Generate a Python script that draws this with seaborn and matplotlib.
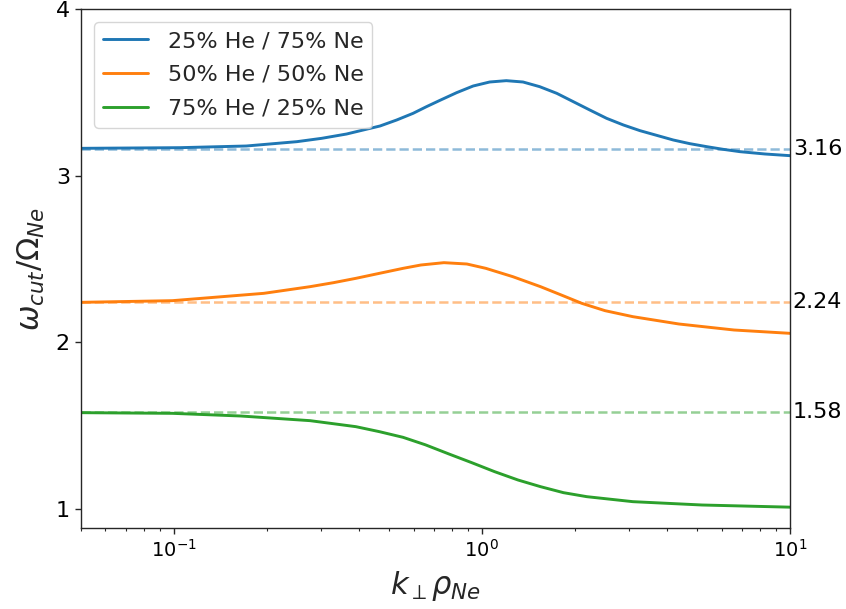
import numpy as np
import pandas as pd
import matplotlib
matplotlib.use("Agg")
import matplotlib.pyplot as plt
import matplotlib.transforms as mtransforms
import seaborn as sns

# Series
x_blue = [0.05, 0.105, 0.172, 0.251, 0.302, 0.364, 0.412, 0.467, 0.529, 0.598, 0.661, 0.731, 0.828,
          0.937, 1.06, 1.2, 1.36, 1.54, 1.75, 1.98, 2.24, 2.54, 2.88, 3.26, 4.18, 4.73, 5.37,
          6.07, 6.88, 8.3, 10.0]
y_blue = [3.164, 3.168, 3.178, 3.204, 3.224, 3.25, 3.274, 3.298, 3.334, 3.374, 3.414, 3.452, 3.498,
          3.538, 3.562, 3.57, 3.562, 3.534, 3.494, 3.444, 3.394, 3.344, 3.304, 3.27, 3.214, 3.192,
          3.174, 3.158, 3.144, 3.13, 3.12]

x_orange = [0.05, 0.099, 0.196, 0.277, 0.33, 0.39, 0.465, 0.555, 0.634, 0.753, 0.894, 1.03, 1.26,
            1.55, 1.81, 2.11, 2.51, 3.09, 4.36, 6.58, 10.0]
y_orange = [2.240, 2.250, 2.294, 2.334, 2.358, 2.384, 2.414, 2.444, 2.464, 2.478, 2.47, 2.444, 2.394,
            2.334, 2.284, 2.234, 2.19, 2.154, 2.11, 2.074, 2.054]

x_green = [0.05, 0.099, 0.165, 0.277, 0.39, 0.465, 0.555, 0.656, 0.782, 0.927, 1.10, 1.31, 1.55,
           1.84, 2.19, 3.09, 5.18, 10.0]
y_green = [1.578, 1.574, 1.558, 1.53, 1.494, 1.464, 1.43, 1.385, 1.33, 1.278, 1.224, 1.174, 1.134,
           1.098, 1.074, 1.044, 1.024, 1.011]

labels = ["25% He / 75% Ne", "50% He / 50% Ne", "75% He / 25% Ne"]
limits = [3.16, 2.24, 1.58]

sns.set_theme(style="ticks")
plt.rcParams["font.family"] = ["DejaVu Sans"]
plt.rcParams["mathtext.fontset"] = "dejavusans"

frames = []
for lab, xs, ys in zip(labels, [x_blue, x_orange, x_green], [y_blue, y_orange, y_green]):
    frames.append(pd.DataFrame({"k": xs, "w": ys, "mix": lab}))
df = pd.concat(frames, ignore_index=True)

colors = ["#1f77b4", "#ff7f0e", "#2ca02c"]

fig = plt.figure(figsize=(8.46, 6.09), dpi=100)
ax = fig.add_axes([81/846, 1 - 528/609, (790 - 81)/846, (528 - 9)/609])

sns.lineplot(data=df, x="k", y="w", hue="mix", palette=colors, ax=ax,
             linewidth=2.1, legend=True)

ax.set_xscale("log")
ax.set_xlim(0.05, 10)
ax.set_ylim(0.886, 4.0)
ax.set_yticks([1, 2, 3, 4])

trans = mtransforms.blended_transform_factory(ax.transAxes, ax.transData)
for val, c in zip(limits, colors):
    ax.axhline(val, ls="--", color=c, alpha=0.5, lw=1.8)
    ax.text(1.004, val, f"{val:.2f}", transform=trans, ha="left", va="center",
            fontsize=16, color="black")

for s in ax.spines.values():
    s.set_visible(True)
    s.set_color("#262626")
    s.set_linewidth(1.0)

ax.tick_params(axis="y", which="major", labelsize=16, length=4.5, width=1, colors="#262626", labelcolor="black")
ax.tick_params(axis="x", which="major", labelsize=14, length=4.5, width=1, colors="#262626", labelcolor="black")
ax.tick_params(axis="x", which="minor", length=2.5, width=0.8, colors="#262626")

ax.set_xlabel(r"$k_\perp\rho_{Ne}$", fontsize=22, labelpad=6)
ax.set_ylabel(r"$\omega_{cut}/\Omega_{Ne}$", fontsize=22, labelpad=6)

leg = ax.legend(loc="upper left", fontsize=16, frameon=True, handlelength=2.0,
                handletextpad=0.9, labelspacing=0.62, borderaxespad=0.6)
leg.get_frame().set_edgecolor("#cccccc")
for line in leg.get_lines():
    line.set_linewidth(2.1)

fig.savefig("out.png", dpi=100)
